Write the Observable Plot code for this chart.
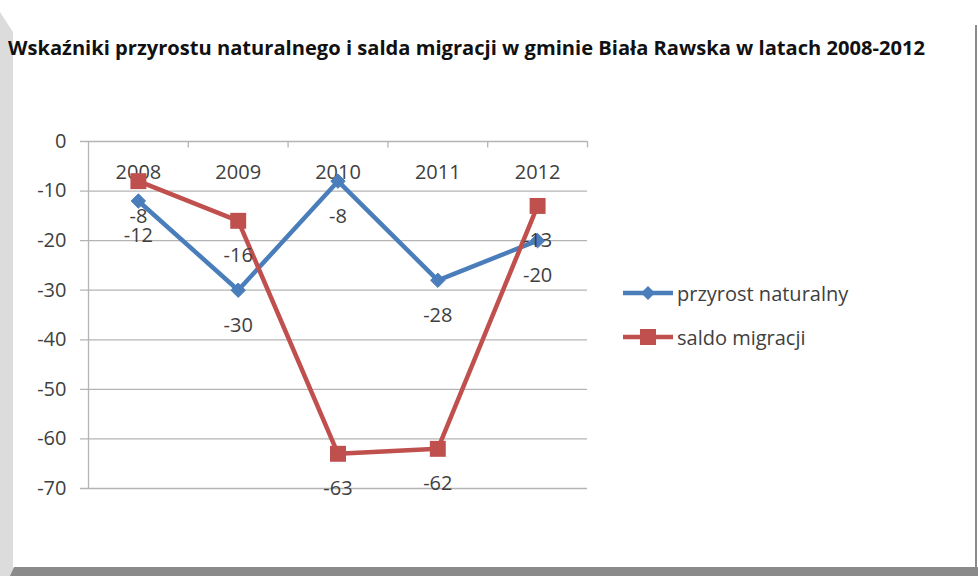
<!DOCTYPE html>
<html>
<head>
<meta charset="utf-8">
<script src="https://cdn.jsdelivr.net/npm/d3@7"></script>
<script src="https://cdn.jsdelivr.net/npm/@observablehq/plot@0.6"></script>
<style>
  html, body { margin: 0; padding: 0; background: #fff; }
  #page { position: relative; width: 978px; height: 576px; overflow: hidden; background: #fff; font-family: "Open Sans", Lato, sans-serif; }
  #leftStrip { position: absolute; left: 0; top: 12px; width: 13px; height: 564px; background: #dcdcdc; clip-path: polygon(0 0, 100% 20px, 100% 100%, 0 100%); }
  #bottomBar { position: absolute; left: 10px; top: 567px; width: 968px; height: 9px; background: #8a8a8a; clip-path: polygon(4px 0, 100% 0, 100% 100%, 0 100%); }
  #rightLine { position: absolute; left: 975px; top: 25px; width: 2px; height: 545px; background: #8a8a8a; }
  #title { position: absolute; left: 8px; top: 35px; font-weight: bold; font-size: 19px; color: #111; white-space: nowrap; transform-origin: 0 0; }
  #chart { position: absolute; left: 0; top: 0; }
  .leg { position: absolute; left: 622px; height: 24px; display: flex; align-items: center; font-size: 20px; color: #404040; white-space: nowrap; }
</style>
</head>
<body>
<div id="page">
  <div id="leftStrip"></div>
  <div id="bottomBar"></div>
  <div id="rightLine"></div>
  <div id="title">Wskaźniki przyrostu naturalnego i salda migracji w gminie Biała Rawska w latach 2008-2012</div>
  <div id="chart"></div>
  <div id="legend"></div>
</div>
<script>
const years = ["2008", "2009", "2010", "2011", "2012"];
const przyrostNaturalny = [-12, -30, -8, -28, -20];
const saldoMigracji = [-8, -16, -63, -62, -13];
const yTicks = [0, -10, -20, -30, -40, -50, -60, -70];
const seriesNames = ["przyrost naturalny", "saldo migracji"];
const seriesColors = ["#4a7ebb", "#c0504d"];

const blueRows = years.map((y, i) => ({i, year: y, v: przyrostNaturalny[i]}));
const redRows = years.map((y, i) => ({i, year: y, v: saldoMigracji[i]}));
const boundaries = d3.range(years.length - 1).map(i => i + 0.5).concat([years.length - 0.5]);

const gridColor = "#b4b4b4";
const textColor = "#404040";
const font = "'Open Sans', Lato, sans-serif";
const fs = 20;

const chart = Plot.plot({
  width: 978,
  height: 576,
  marginTop: 141,
  marginBottom: 88,
  marginLeft: 88,
  marginRight: 391,
  x: {type: "linear", domain: [-0.5, years.length - 0.5], axis: null},
  y: {domain: [-70, 0], axis: null},
  style: {fontFamily: font, fontSize: fs + "px", color: textColor, background: "transparent"},
  marks: [
    Plot.ruleY(yTicks, {y: d => d, stroke: gridColor, strokeWidth: 1.3, insetLeft: -8}),
    Plot.ruleX([-0.5], {x: d => d, stroke: gridColor, strokeWidth: 1.3}),
    Plot.ruleX(boundaries, {x: d => d, y1: () => 0, y2: () => -1.3, stroke: gridColor, strokeWidth: 1.3}),
    Plot.text(yTicks, {x: () => -0.5, y: d => d, text: d => String(d), dx: -22, textAnchor: "end", fill: textColor, fontSize: fs}),
    Plot.text(years, {x: (d, i) => i, y: () => 0, text: d => d, dy: 31, fill: textColor, fontSize: fs}),
    Plot.line(blueRows, {x: "i", y: "v", stroke: seriesColors[0], strokeWidth: 4.5}),
    Plot.dot(blueRows, {x: "i", y: "v", symbol: "diamond2", r: 6.5, fill: seriesColors[0], stroke: seriesColors[0], strokeWidth: 1}),
    Plot.line(redRows, {x: "i", y: "v", stroke: seriesColors[1], strokeWidth: 4.5}),
    Plot.dot(redRows, {x: "i", y: "v", symbol: "square", r: 9, fill: seriesColors[1]}),
    Plot.text(blueRows, {x: "i", y: "v", text: d => String(d.v), dy: 35, fill: textColor, fontSize: fs}),
    Plot.text(redRows, {x: "i", y: "v", text: d => String(d.v), dy: 35, fill: textColor, fontSize: fs})
  ]
});
document.getElementById("chart").appendChild(chart);

// fit title width to the reference span
const title = document.getElementById("title");
const targetW = 917;
const w = title.getBoundingClientRect().width;
if (w > 0) title.style.transform = `scaleX(${targetW / w})`;

// legend
const legend = document.getElementById("legend");
const legendTops = [281, 325];
seriesNames.forEach((name, k) => {
  const row = document.createElement("div");
  row.className = "leg";
  row.style.top = legendTops[k] + "px";
  const marker = k === 0
    ? `<path d="M26,5 L33,12 L26,19 L19,12 Z" fill="${seriesColors[0]}"/>`
    : `<rect x="18" y="4" width="16" height="16" fill="${seriesColors[1]}"/>`;
  row.innerHTML = `<svg width="52" height="24"><line x1="1" y1="12" x2="51" y2="12" stroke="${seriesColors[k]}" stroke-width="4.5"/>${marker}</svg><span style="margin-left:3px">${name}</span>`;
  legend.appendChild(row);
});
</script>
</body>
</html>
